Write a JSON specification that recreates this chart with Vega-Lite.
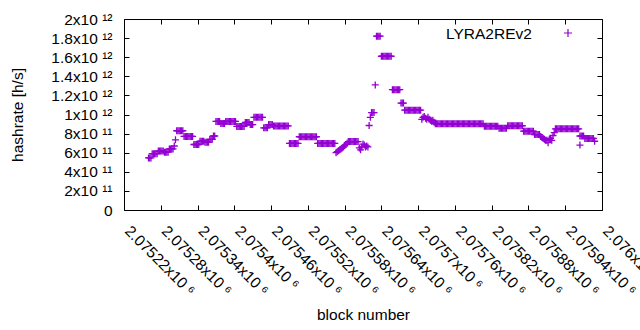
{
  "$schema": "https://vega.github.io/schema/vega-lite/v6.json",
  "autosize": {"type": "none"},
  "width": 478,
  "height": 191,
  "padding": {"left": 124, "top": 19, "right": 38, "bottom": 120},
  "background": "white",
  "config": {
    "font": "Liberation Sans",
    "view": {"stroke": "black", "strokeWidth": 1},
    "axis": {"grid": false, "domain": false, "labelFont": "Liberation Sans", "labelFontSize": 15.5, "labelColor": "black", "titleFont": "Liberation Sans", "titleFontSize": 15.5, "titleFontWeight": "normal", "titleColor": "black", "tickColor": "black", "tickSize": -5, "labelOverlap": false, "labelFlush": false, "labelBound": false}
  },
  "data": {"values": [
    {"b":2075260,"h":5.45e11},{"b":2075262,"h":5.45e11},{"b":2075264,"h":5.45e11},
    {"b":2075266,"h":5.9e11},{"b":2075268,"h":5.9e11},{"b":2075270,"h":5.9e11},{"b":2075272,"h":5.9e11},{"b":2075274,"h":5.9e11},
    {"b":2075276,"h":6.17e11},{"b":2075278,"h":6.17e11},{"b":2075280,"h":6.17e11},{"b":2075282,"h":6.17e11},{"b":2075284,"h":6.17e11},
    {"b":2075286,"h":6.05e11},{"b":2075288,"h":6.05e11},{"b":2075290,"h":6.05e11},{"b":2075292,"h":6.05e11},
    {"b":2075294,"h":6.4e11},{"b":2075296,"h":6.4e11},{"b":2075298,"h":6.4e11},{"b":2075300,"h":6.4e11},
    {"b":2075302,"h":6.7e11},{"b":2075304,"h":7.35e11},
    {"b":2075306,"h":8.3e11},{"b":2075308,"h":8.3e11},{"b":2075310,"h":8.3e11},{"b":2075312,"h":8.3e11},{"b":2075314,"h":8.3e11},{"b":2075316,"h":8.3e11},
    {"b":2075318,"h":7.7e11},{"b":2075320,"h":7.7e11},{"b":2075322,"h":7.7e11},{"b":2075324,"h":7.7e11},{"b":2075326,"h":7.7e11},{"b":2075328,"h":7.7e11},{"b":2075330,"h":7.7e11},{"b":2075332,"h":7.7e11},
    {"b":2075334,"h":6.86e11},{"b":2075336,"h":6.86e11},{"b":2075338,"h":6.86e11},{"b":2075340,"h":6.86e11},{"b":2075342,"h":6.86e11},
    {"b":2075344,"h":7.2e11},{"b":2075346,"h":7.2e11},{"b":2075348,"h":7.2e11},{"b":2075350,"h":7.2e11},
    {"b":2075352,"h":7.1e11},{"b":2075354,"h":7.1e11},{"b":2075356,"h":7.1e11},{"b":2075358,"h":7.1e11},
    {"b":2075360,"h":7.4e11},{"b":2075362,"h":7.4e11},{"b":2075364,"h":7.4e11},
    {"b":2075366,"h":7.75e11},{"b":2075368,"h":7.75e11},
    {"b":2075370,"h":9.27e11},{"b":2075372,"h":9.27e11},{"b":2075374,"h":9.27e11},{"b":2075376,"h":9.27e11},
    {"b":2075378,"h":9.06e11},{"b":2075380,"h":9.06e11},{"b":2075382,"h":9.06e11},{"b":2075384,"h":9.06e11},
    {"b":2075386,"h":9.27e11},{"b":2075388,"h":9.27e11},{"b":2075390,"h":9.27e11},{"b":2075392,"h":9.27e11},{"b":2075394,"h":9.27e11},{"b":2075396,"h":9.27e11},{"b":2075398,"h":9.27e11},{"b":2075400,"h":9.27e11},{"b":2075402,"h":9.27e11},
    {"b":2075404,"h":8.75e11},{"b":2075406,"h":8.75e11},{"b":2075408,"h":8.75e11},{"b":2075410,"h":8.75e11},{"b":2075412,"h":8.75e11},{"b":2075414,"h":8.75e11},{"b":2075416,"h":8.75e11},
    {"b":2075418,"h":9.16e11},{"b":2075420,"h":9.16e11},{"b":2075422,"h":9.16e11},{"b":2075424,"h":9.16e11},
    {"b":2075426,"h":8.95e11},{"b":2075428,"h":8.95e11},{"b":2075430,"h":8.95e11},
    {"b":2075432,"h":9.7e11},{"b":2075434,"h":9.7e11},{"b":2075436,"h":9.7e11},{"b":2075438,"h":9.7e11},{"b":2075440,"h":9.7e11},{"b":2075442,"h":9.7e11},{"b":2075444,"h":9.7e11},{"b":2075446,"h":9.7e11},
    {"b":2075448,"h":8.6e11},{"b":2075450,"h":8.6e11},{"b":2075452,"h":8.6e11},{"b":2075454,"h":8.6e11},
    {"b":2075456,"h":8.95e11},{"b":2075458,"h":8.95e11},{"b":2075460,"h":8.95e11},{"b":2075462,"h":8.95e11},
    {"b":2075464,"h":8.8e11},{"b":2075466,"h":8.8e11},{"b":2075468,"h":8.8e11},{"b":2075470,"h":8.8e11},{"b":2075472,"h":8.8e11},{"b":2075474,"h":8.8e11},{"b":2075476,"h":8.8e11},{"b":2075478,"h":8.8e11},{"b":2075480,"h":8.8e11},{"b":2075482,"h":8.8e11},{"b":2075484,"h":8.8e11},{"b":2075486,"h":8.8e11},{"b":2075488,"h":8.8e11},
    {"b":2075490,"h":6.97e11},{"b":2075492,"h":6.97e11},{"b":2075494,"h":6.97e11},{"b":2075496,"h":6.97e11},{"b":2075498,"h":6.97e11},{"b":2075500,"h":6.97e11},{"b":2075502,"h":6.97e11},{"b":2075504,"h":6.97e11},
    {"b":2075506,"h":7.67e11},{"b":2075508,"h":7.67e11},{"b":2075510,"h":7.67e11},{"b":2075512,"h":7.67e11},{"b":2075514,"h":7.67e11},{"b":2075516,"h":7.67e11},{"b":2075518,"h":7.67e11},{"b":2075520,"h":7.67e11},{"b":2075522,"h":7.67e11},{"b":2075524,"h":7.67e11},{"b":2075526,"h":7.67e11},{"b":2075528,"h":7.67e11},{"b":2075530,"h":7.67e11},{"b":2075532,"h":7.67e11},{"b":2075534,"h":7.67e11},
    {"b":2075536,"h":6.97e11},{"b":2075538,"h":6.97e11},{"b":2075540,"h":6.97e11},{"b":2075542,"h":6.97e11},{"b":2075544,"h":6.97e11},{"b":2075546,"h":6.97e11},{"b":2075548,"h":6.97e11},{"b":2075550,"h":6.97e11},{"b":2075552,"h":6.97e11},{"b":2075554,"h":6.97e11},{"b":2075556,"h":6.97e11},{"b":2075558,"h":6.97e11},{"b":2075560,"h":6.97e11},{"b":2075562,"h":6.97e11},{"b":2075564,"h":6.97e11},
    {"b":2075566,"h":6.0e11},{"b":2075568,"h":6.1e11},{"b":2075570,"h":6.2e11},{"b":2075572,"h":6.3e11},{"b":2075574,"h":6.4e11},{"b":2075576,"h":6.5e11},{"b":2075578,"h":6.6e11},{"b":2075580,"h":6.75e11},{"b":2075582,"h":6.85e11},{"b":2075584,"h":7.0e11},
    {"b":2075586,"h":7.17e11},{"b":2075588,"h":7.17e11},{"b":2075590,"h":7.17e11},{"b":2075592,"h":7.17e11},{"b":2075594,"h":7.17e11},{"b":2075596,"h":7.17e11},{"b":2075598,"h":7.17e11},{"b":2075600,"h":7.17e11},{"b":2075602,"h":7.17e11},
    {"b":2075604,"h":6.5e11},{"b":2075606,"h":6.3e11},{"b":2075608,"h":6.6e11},{"b":2075610,"h":6.9e11},{"b":2075612,"h":6.8e11},{"b":2075614,"h":6.6e11},{"b":2075616,"h":6.7e11},{"b":2075618,"h":6.6e11},
    {"b":2075620,"h":8.85e11},{"b":2075622,"h":9.7e11},{"b":2075624,"h":1.02e12},{"b":2075626,"h":1.02e12},{"b":2075628,"h":1.02e12},{"b":2075630,"h":1.31e12},
    {"b":2075632,"h":1.82e12},{"b":2075634,"h":1.82e12},{"b":2075636,"h":1.82e12},{"b":2075638,"h":1.82e12},
    {"b":2075640,"h":1.61e12},{"b":2075642,"h":1.61e12},{"b":2075644,"h":1.61e12},{"b":2075646,"h":1.61e12},{"b":2075648,"h":1.61e12},{"b":2075650,"h":1.61e12},{"b":2075652,"h":1.61e12},{"b":2075654,"h":1.61e12},{"b":2075656,"h":1.61e12},
    {"b":2075658,"h":1.26e12},{"b":2075660,"h":1.26e12},{"b":2075662,"h":1.26e12},{"b":2075664,"h":1.26e12},{"b":2075666,"h":1.26e12},{"b":2075668,"h":1.26e12},{"b":2075670,"h":1.26e12},
    {"b":2075672,"h":1.12e12},{"b":2075674,"h":1.12e12},{"b":2075676,"h":1.12e12},
    {"b":2075678,"h":1.045e12},{"b":2075680,"h":1.045e12},{"b":2075682,"h":1.045e12},{"b":2075684,"h":1.045e12},{"b":2075686,"h":1.045e12},{"b":2075688,"h":1.045e12},{"b":2075690,"h":1.045e12},{"b":2075692,"h":1.045e12},{"b":2075694,"h":1.045e12},{"b":2075696,"h":1.045e12},{"b":2075698,"h":1.045e12},{"b":2075700,"h":1.045e12},{"b":2075702,"h":1.045e12},{"b":2075704,"h":1.045e12},
    {"b":2075706,"h":9.5e11},{"b":2075708,"h":9.7e11},{"b":2075710,"h":9.8e11},{"b":2075712,"h":9.6e11},{"b":2075714,"h":9.5e11},{"b":2075716,"h":9.7e11},{"b":2075718,"h":9.5e11},{"b":2075720,"h":9.4e11},{"b":2075722,"h":9.3e11},{"b":2075724,"h":9.4e11},{"b":2075726,"h":9.2e11},
    {"b":2075728,"h":9.03e11},{"b":2075730,"h":9.03e11},{"b":2075732,"h":9.03e11},{"b":2075734,"h":9.03e11},{"b":2075736,"h":9.03e11},{"b":2075738,"h":9.03e11},{"b":2075740,"h":9.03e11},{"b":2075742,"h":9.03e11},{"b":2075744,"h":9.03e11},{"b":2075746,"h":9.03e11},
    {"b":2075748,"h":9.03e11},{"b":2075750,"h":9.03e11},{"b":2075752,"h":9.03e11},{"b":2075754,"h":9.03e11},{"b":2075756,"h":9.03e11},{"b":2075758,"h":9.03e11},{"b":2075760,"h":9.03e11},{"b":2075762,"h":9.03e11},{"b":2075764,"h":9.03e11},{"b":2075766,"h":9.03e11},
    {"b":2075768,"h":9.03e11},{"b":2075770,"h":9.03e11},{"b":2075772,"h":9.03e11},{"b":2075774,"h":9.03e11},{"b":2075776,"h":9.03e11},{"b":2075778,"h":9.03e11},{"b":2075780,"h":9.03e11},{"b":2075782,"h":9.03e11},{"b":2075784,"h":9.03e11},{"b":2075786,"h":9.03e11},
    {"b":2075788,"h":9.03e11},{"b":2075790,"h":9.03e11},{"b":2075792,"h":9.03e11},{"b":2075794,"h":9.03e11},{"b":2075796,"h":9.03e11},{"b":2075798,"h":9.03e11},{"b":2075800,"h":9.03e11},{"b":2075802,"h":9.03e11},{"b":2075804,"h":9.03e11},{"b":2075806,"h":9.03e11},
    {"b":2075808,"h":8.78e11},{"b":2075810,"h":8.78e11},{"b":2075812,"h":8.78e11},{"b":2075814,"h":8.78e11},{"b":2075816,"h":8.78e11},{"b":2075818,"h":8.78e11},{"b":2075820,"h":8.78e11},{"b":2075822,"h":8.78e11},{"b":2075824,"h":8.78e11},{"b":2075826,"h":8.78e11},{"b":2075828,"h":8.78e11},{"b":2075830,"h":8.78e11},
    {"b":2075832,"h":8.55e11},{"b":2075834,"h":8.55e11},{"b":2075836,"h":8.55e11},{"b":2075838,"h":8.55e11},{"b":2075840,"h":8.55e11},{"b":2075842,"h":8.55e11},{"b":2075844,"h":8.55e11},
    {"b":2075846,"h":8.82e11},{"b":2075848,"h":8.82e11},{"b":2075850,"h":8.82e11},{"b":2075852,"h":8.82e11},{"b":2075854,"h":8.82e11},{"b":2075856,"h":8.82e11},{"b":2075858,"h":8.82e11},{"b":2075860,"h":8.82e11},{"b":2075862,"h":8.82e11},{"b":2075864,"h":8.82e11},{"b":2075866,"h":8.82e11},{"b":2075868,"h":8.82e11},{"b":2075870,"h":8.82e11},
    {"b":2075872,"h":8.25e11},{"b":2075874,"h":8.25e11},{"b":2075876,"h":8.25e11},{"b":2075878,"h":8.25e11},{"b":2075880,"h":8.25e11},{"b":2075882,"h":8.25e11},{"b":2075884,"h":8.25e11},{"b":2075886,"h":8.25e11},{"b":2075888,"h":8.25e11},
    {"b":2075890,"h":7.9e11},{"b":2075892,"h":7.9e11},{"b":2075894,"h":7.9e11},{"b":2075896,"h":7.9e11},{"b":2075898,"h":7.9e11},
    {"b":2075900,"h":7.7e11},{"b":2075902,"h":7.6e11},{"b":2075904,"h":7.5e11},{"b":2075906,"h":7.4e11},{"b":2075908,"h":7.3e11},{"b":2075910,"h":7.3e11},{"b":2075912,"h":7.05e11},{"b":2075914,"h":7.4e11},{"b":2075916,"h":7.5e11},{"b":2075918,"h":7.3e11},
    {"b":2075920,"h":7.8e11},{"b":2075922,"h":8.1e11},
    {"b":2075924,"h":8.5e11},{"b":2075926,"h":8.5e11},{"b":2075928,"h":8.5e11},{"b":2075930,"h":8.5e11},{"b":2075932,"h":8.5e11},{"b":2075934,"h":8.5e11},{"b":2075936,"h":8.5e11},{"b":2075938,"h":8.5e11},{"b":2075940,"h":8.5e11},{"b":2075942,"h":8.5e11},
    {"b":2075944,"h":8.5e11},{"b":2075946,"h":8.5e11},{"b":2075948,"h":8.5e11},{"b":2075950,"h":8.5e11},{"b":2075952,"h":8.5e11},{"b":2075954,"h":8.5e11},{"b":2075956,"h":8.5e11},{"b":2075958,"h":8.5e11},{"b":2075960,"h":8.5e11},{"b":2075962,"h":8.5e11},
    {"b":2075964,"h":6.8e11},{"b":2075964,"h":7.75e11},{"b":2075966,"h":7.75e11},{"b":2075968,"h":7.75e11},{"b":2075970,"h":7.75e11},
    {"b":2075972,"h":7.5e11},{"b":2075974,"h":7.5e11},{"b":2075976,"h":7.5e11},{"b":2075978,"h":7.5e11},{"b":2075980,"h":7.5e11},{"b":2075982,"h":7.5e11},{"b":2075984,"h":7.5e11},{"b":2075986,"h":7.5e11},
    {"b":2075988,"h":7.2e11}
  ]},
  "layer": [
    {
      "mark": {"type": "point", "shape": "M-1,0L1,0M0,-1L0,1", "filled": false, "strokeWidth": 1.3, "size": 49, "opacity": 1},
      "encoding": {
        "x": {"field": "b", "type": "quantitative", "scale": {"domain": [2075220, 2076000], "nice": false, "zero": false},
          "axis": {"title": "block number", "values": [2075220,2075280,2075340,2075400,2075460,2075520,2075580,2075640,2075700,2075760,2075820,2075880,2075940,2076000],
            "labelAngle": 45, "labelAlign": "left", "labelBaseline": "middle", "labelPadding": 23, "labelOffset": 3,
            "titleY": 104, "titleBaseline": "middle",
            "labelExpr": "format(datum.value / 1e6, '.5~f') + 'x10 ⁶'"}},
        "y": {"field": "h", "type": "quantitative", "scale": {"domain": [0, 2e12], "nice": false, "zero": true},
          "axis": {"title": "hashrate [h/s]", "values": [0,2e11,4e11,6e11,8e11,1e12,1.2e12,1.4e12,1.6e12,1.8e12,2e12], "labelPadding": 17,
            "titleX": -107, "titleBaseline": "middle",
            "labelExpr": "datum.value == 0 ? '0' : format(datum.value / pow(10, floor(log(datum.value) / LN10 + 1e-9)), '.1~f') + 'x10 ' + (floor(log(datum.value) / LN10 + 1e-9) == 12 ? '¹²' : '¹¹')"}},
        "color": {"datum": "LYRA2REv2", "type": "nominal", "scale": {"range": ["#9400D3"]},
          "legend": {"title": "LYRA2REv2", "titleOrient": "left", "titleFontSize": 15.5, "titleFontWeight": "normal", "titleColor": "black", "titleFont": "Liberation Sans", "titlePadding": 31, "titleBaseline": "middle",
            "labelExpr": "''", "symbolType": "M-1,0L1,0M0,-1L0,1", "symbolSize": 64, "symbolStrokeWidth": 1.2, "symbolFillColor": "transparent",
            "orient": "none", "legendX": 322, "legendY": 9, "padding": 0}}
      }
    },
    {
      "mark": {"type": "point", "opacity": 0},
      "encoding": {
        "x": {"field": "b", "type": "quantitative", "axis": {"orient": "top", "title": null, "labels": false, "values": [2075220,2075280,2075340,2075400,2075460,2075520,2075580,2075640,2075700,2075760,2075820,2075880,2075940,2076000]}},
        "y": {"field": "h", "type": "quantitative", "axis": {"orient": "right", "title": null, "labels": false, "values": [0,2e11,4e11,6e11,8e11,1e12,1.2e12,1.4e12,1.6e12,1.8e12,2e12]}}
      }
    }
  ],
  "resolve": {"axis": {"x": "independent", "y": "independent"}}
}
